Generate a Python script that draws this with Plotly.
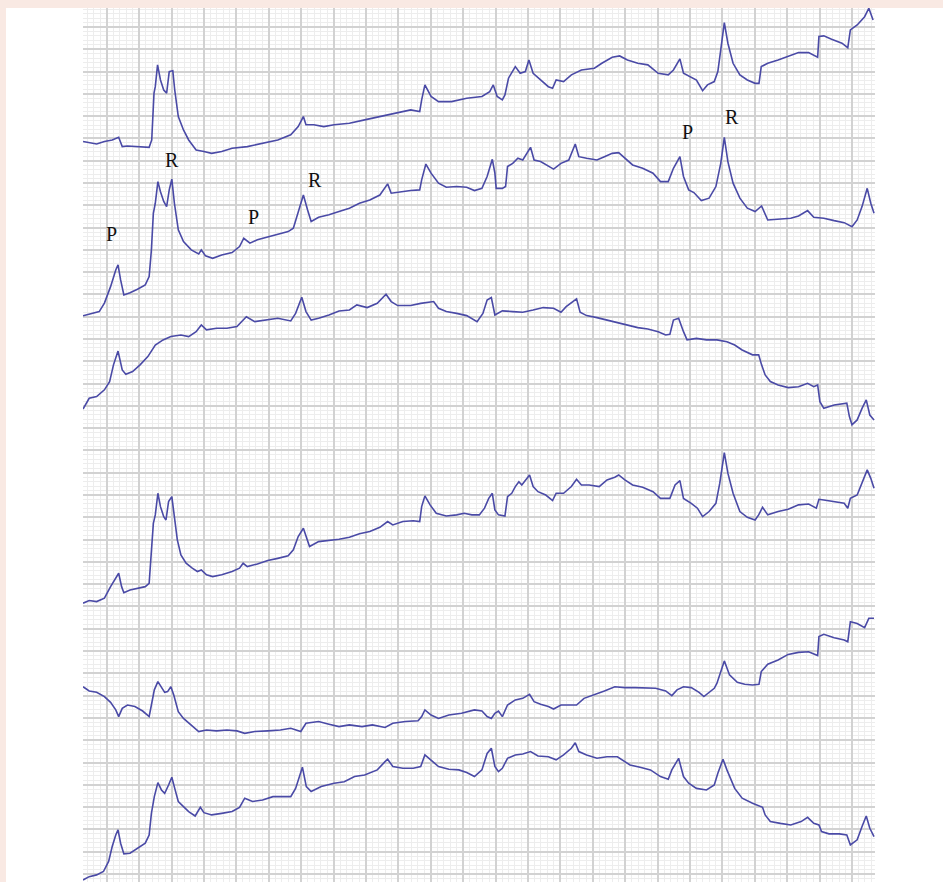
import plotly.graph_objects as go

# Units: time in large ECG boxes (0.2 s each), amplitude in large boxes (0.5 mV each)
t1 = [-0.73,-0.54,-0.31,-0.07,0.17,0.37,0.48,0.64,0.87,1.11,1.31,1.39,1.46,1.50,1.57,1.66,1.76,1.85,1.93,2.04,2.10,2.21,2.37,2.53,2.76,3.00,3.24,3.55,3.87,4.34,4.81,5.28,5.68,5.91,6.07,6.15,6.39,6.70,7.02,7.49,7.96,8.43,8.91,9.38,9.66,9.72,9.82,10.01,10.24,10.64,11.11,11.58,11.82,11.93,12.05,12.21,12.29,12.40,12.61,12.76,12.92,13.03,13.16,13.39,13.63,13.76,13.87,14.10,14.34,14.65,15.05,15.28,15.60,15.83,16.07,16.39,16.70,17.02,17.33,17.49,17.69,17.80,18.04,18.20,18.39,18.54,18.75,18.86,18.95,19.06,19.17,19.33,19.54,19.77,20.01,20.13,20.20,20.40,20.72,21.03,21.35,21.66,21.94,21.98,22.13,22.37,22.69,22.87,22.95,23.16,23.39,23.52,23.65]
v1 = [32.86,32.81,32.75,32.86,32.93,33.05,32.63,32.66,32.63,32.63,32.60,32.93,35.03,35.32,36.30,35.62,35.17,35.03,36.00,36.04,35.17,33.98,33.38,32.93,32.48,32.41,32.33,32.41,32.56,32.63,32.78,32.93,33.16,33.53,33.98,33.61,33.61,33.53,33.61,33.68,33.83,33.98,34.13,34.28,34.20,34.73,35.40,34.88,34.65,34.65,34.80,34.88,35.10,35.40,34.88,34.73,34.95,35.70,36.22,35.92,36.00,36.52,35.92,35.62,35.32,35.25,35.62,35.55,35.85,36.07,36.15,36.37,36.64,36.70,36.52,36.37,36.30,35.92,35.85,36.07,36.57,35.92,35.74,35.62,35.14,35.40,35.55,36.00,36.97,38.19,37.27,36.37,35.85,35.62,35.47,35.47,36.22,36.37,36.52,36.67,36.85,36.85,36.64,37.57,37.60,37.45,37.27,37.07,37.87,38.09,38.46,38.84,38.31]

t2 = [-0.73,-0.46,-0.23,-0.07,0.12,0.28,0.35,0.43,0.53,0.72,0.95,1.19,1.31,1.38,1.44,1.50,1.58,1.66,1.76,1.85,1.93,2.01,2.09,2.21,2.37,2.61,2.84,2.92,3.05,3.27,3.55,3.87,4.10,4.23,4.42,4.65,4.97,5.28,5.60,5.76,5.91,6.07,6.20,6.31,6.54,6.86,7.17,7.49,7.80,8.12,8.43,8.67,8.78,9.06,9.38,9.66,9.72,9.85,10.01,10.24,10.48,10.80,11.11,11.35,11.58,11.74,11.90,11.98,12.02,12.21,12.31,12.37,12.53,12.69,12.84,13.08,13.19,13.39,13.63,13.79,14.02,14.26,14.46,14.57,14.81,15.13,15.36,15.60,15.80,15.99,16.23,16.54,16.86,17.09,17.33,17.49,17.69,17.80,17.96,18.12,18.35,18.59,18.80,18.95,19.06,19.17,19.33,19.54,19.77,20.01,20.21,20.40,20.72,21.11,21.35,21.63,21.82,22.13,22.45,22.76,23.00,23.16,23.31,23.47,23.58,23.68]
v2 = [25.04,25.13,25.23,25.61,26.35,27.10,27.33,26.65,25.98,26.08,26.23,26.43,26.80,28.00,29.64,30.09,31.06,30.61,30.17,29.94,30.69,31.17,30.09,28.90,28.37,28.00,27.82,28.00,27.73,27.62,27.77,27.88,28.15,28.52,28.30,28.45,28.57,28.72,28.82,28.97,29.64,30.46,29.79,29.27,29.46,29.57,29.72,29.87,30.09,30.24,30.46,30.96,30.54,30.61,30.66,30.69,31.14,31.85,31.44,30.99,30.81,30.84,30.81,30.66,30.76,31.29,32.06,31.44,30.76,30.76,30.84,31.74,31.88,32.11,32.03,32.60,32.03,31.96,31.77,31.62,31.88,32.03,32.75,32.18,32.11,32.03,32.18,32.33,32.36,32.11,31.81,31.66,31.44,31.06,31.06,31.66,32.18,31.29,30.69,30.57,30.21,30.32,30.84,31.88,33.05,31.96,30.99,30.32,29.87,29.72,29.97,29.34,29.37,29.42,29.52,29.76,29.46,29.42,29.31,29.22,29.04,29.34,29.94,30.76,30.09,29.64]

t3 = [-0.73,-0.54,-0.31,-0.07,0.09,0.21,0.35,0.48,0.59,0.80,1.03,1.27,1.50,1.74,1.98,2.29,2.53,2.76,2.92,3.08,3.39,3.71,4.02,4.18,4.31,4.57,4.89,5.28,5.68,5.83,6.02,6.15,6.31,6.54,6.86,7.17,7.49,7.72,8.04,8.35,8.62,8.78,8.98,9.38,9.69,10.09,10.24,10.48,10.80,11.11,11.43,11.61,11.74,11.87,11.98,12.21,12.53,12.84,13.16,13.47,13.79,14.02,14.18,14.50,14.61,14.81,15.13,15.44,15.76,16.07,16.39,16.70,17.02,17.25,17.38,17.49,17.65,17.80,17.91,18.20,18.51,18.83,19.14,19.38,19.61,19.93,20.12,20.21,20.32,20.48,20.72,21.03,21.35,21.63,21.82,21.94,22.01,22.13,22.45,22.84,22.92,23.00,23.16,23.31,23.44,23.55,23.68]
v3 = [20.86,21.34,21.42,21.72,22.09,22.84,23.46,22.61,22.42,22.54,22.84,23.21,23.73,23.96,24.11,24.18,24.11,24.33,24.63,24.41,24.48,24.48,24.56,24.78,25.00,24.78,24.85,24.93,24.81,25.15,25.87,25.23,24.85,24.93,25.08,25.26,25.30,25.53,25.41,25.60,26.01,25.68,25.50,25.50,25.60,25.68,25.38,25.23,25.15,25.05,24.78,25.15,25.75,25.86,25.08,25.26,25.23,25.20,25.30,25.41,25.38,25.20,25.45,25.80,25.20,25.05,24.96,24.85,24.75,24.63,24.51,24.45,24.33,24.18,24.21,24.85,24.93,24.33,23.96,24.03,23.96,23.96,23.88,23.73,23.51,23.29,23.29,22.84,22.39,22.09,21.94,21.82,21.86,22.01,21.86,21.94,21.19,20.89,21.04,21.12,20.52,20.15,20.37,20.89,21.27,20.59,20.37]

t4 = [-0.73,-0.54,-0.31,-0.07,0.12,0.28,0.37,0.46,0.53,0.72,0.95,1.19,1.31,1.38,1.44,1.50,1.58,1.66,1.76,1.83,1.91,2.01,2.09,2.18,2.29,2.45,2.64,2.80,2.92,3.08,3.27,3.55,3.87,4.10,4.21,4.34,4.65,4.97,5.28,5.60,5.76,5.91,6.07,6.15,6.26,6.54,6.86,7.17,7.49,7.80,8.12,8.43,8.67,8.83,9.14,9.46,9.66,9.72,9.82,9.98,10.17,10.48,10.80,11.03,11.27,11.50,11.66,11.79,11.90,11.98,12.09,12.29,12.37,12.50,12.61,12.72,12.81,12.92,13.05,13.16,13.31,13.55,13.76,13.87,14.10,14.34,14.50,14.65,14.89,15.20,15.44,15.68,15.80,15.99,16.23,16.54,16.86,17.09,17.38,17.54,17.69,17.80,18.04,18.23,18.39,18.59,18.80,18.92,19.06,19.17,19.33,19.54,19.77,20.01,20.12,20.24,20.40,20.72,21.03,21.35,21.66,21.90,21.98,22.13,22.45,22.76,22.87,22.95,23.16,23.31,23.47,23.58,23.68]
v4 = [12.15,12.27,12.22,12.37,12.89,13.27,13.49,12.89,12.62,12.74,12.82,12.89,13.04,14.39,15.73,16.11,17.08,16.48,16.03,15.88,16.71,16.93,16.03,14.99,14.31,13.94,13.72,13.57,13.64,13.42,13.34,13.42,13.57,13.72,13.94,13.79,13.91,14.06,14.16,14.27,14.54,15.14,15.51,15.14,14.69,14.91,14.96,15.02,15.11,15.26,15.36,15.55,15.81,15.66,15.81,15.85,15.81,16.48,16.96,16.56,16.18,16.06,16.11,16.18,16.11,16.11,16.41,16.85,17.08,16.33,16.11,16.06,16.93,17.08,17.38,17.60,17.45,17.68,17.90,17.38,17.15,17.00,16.75,17.08,17.08,17.38,17.71,17.45,17.45,17.38,17.68,17.80,17.90,17.68,17.45,17.35,17.15,16.85,16.85,17.45,17.65,16.85,16.63,16.41,16.03,16.26,16.63,17.53,18.90,17.98,17.08,16.26,16.00,15.88,16.11,16.45,16.11,16.26,16.36,16.56,16.60,16.41,16.81,16.78,16.71,16.63,16.41,16.85,17.00,17.53,18.13,17.75,17.30]

t5 = [-0.73,-0.54,-0.31,-0.07,0.12,0.28,0.37,0.48,0.64,0.87,1.11,1.31,1.38,1.47,1.58,1.69,1.79,1.88,1.98,2.07,2.21,2.37,2.61,2.84,3.08,3.39,3.71,4.02,4.26,4.57,4.97,5.36,5.68,5.99,6.15,6.54,6.86,7.17,7.49,7.88,8.20,8.59,8.83,9.22,9.61,9.72,9.82,10.01,10.24,10.56,10.95,11.35,11.58,11.74,11.87,11.98,12.09,12.21,12.37,12.61,12.84,13.05,13.19,13.39,13.63,13.79,14.02,14.26,14.50,14.73,15.05,15.36,15.68,15.99,16.31,16.62,16.94,17.25,17.44,17.60,17.80,18.04,18.28,18.43,18.59,18.75,18.83,18.92,19.06,19.22,19.46,19.69,19.93,20.13,20.20,20.40,20.72,21.03,21.35,21.66,21.94,21.98,22.13,22.45,22.76,22.87,22.95,23.16,23.39,23.52,23.68]
v5 = [8.40,8.21,8.15,7.96,7.70,7.36,7.06,7.43,7.58,7.51,7.31,7.06,7.58,8.26,8.63,8.36,8.15,8.18,8.40,8.03,7.28,6.98,6.69,6.39,6.46,6.42,6.46,6.42,6.31,6.39,6.42,6.46,6.54,6.39,6.76,6.84,6.72,6.61,6.69,6.61,6.69,6.57,6.76,6.84,6.87,7.06,7.36,7.13,6.98,7.13,7.21,7.36,7.31,7.06,6.98,7.21,7.31,7.06,7.58,7.81,7.88,8.06,7.73,7.61,7.51,7.40,7.58,7.58,7.58,7.88,8.03,8.21,8.40,8.36,8.36,8.36,8.33,8.21,8.00,8.26,8.40,8.36,8.15,7.96,8.15,8.33,8.55,8.93,9.56,8.93,8.60,8.51,8.48,8.51,9.08,9.41,9.60,9.85,9.94,9.97,9.80,10.65,10.75,10.60,10.50,10.42,11.32,11.24,11.05,11.47,11.47]

t6 = [-0.73,-0.54,-0.31,-0.10,0.06,0.17,0.28,0.35,0.43,0.53,0.72,0.95,1.19,1.31,1.38,1.47,1.58,1.69,1.79,1.91,2.01,2.10,2.21,2.37,2.53,2.73,2.89,3.00,3.24,3.55,3.87,4.10,4.26,4.50,4.81,5.13,5.44,5.68,5.83,6.04,6.16,6.31,6.62,7.02,7.33,7.65,7.96,8.35,8.59,8.67,8.83,9.14,9.46,9.69,9.82,10.01,10.24,10.56,10.87,11.11,11.35,11.58,11.74,11.87,11.98,12.09,12.21,12.37,12.61,12.84,13.08,13.31,13.63,13.87,14.10,14.34,14.46,14.57,14.81,15.13,15.44,15.76,15.91,16.15,16.46,16.78,17.09,17.33,17.44,17.65,17.80,17.96,18.20,18.51,18.75,18.86,19.02,19.14,19.38,19.61,19.93,20.24,20.32,20.48,20.79,21.11,21.43,21.63,21.82,21.98,22.06,22.29,22.61,22.84,22.95,23.16,23.31,23.44,23.55,23.68]
v6 = [-0.27,-0.12,-0.04,0.11,0.56,1.23,1.75,1.98,1.38,0.90,0.93,1.15,1.38,1.75,2.72,3.47,4.10,3.77,3.62,3.99,4.34,3.84,3.25,3.02,2.80,2.60,2.99,2.75,2.65,2.72,2.80,2.99,3.40,3.25,3.32,3.47,3.47,3.47,3.84,4.79,3.92,3.70,3.92,4.07,4.14,4.37,4.44,4.67,5.04,5.15,4.82,4.74,4.74,4.82,5.34,5.12,4.82,4.70,4.67,4.55,4.37,4.67,5.41,5.64,4.82,4.59,4.74,5.19,5.34,5.38,5.49,5.29,5.26,5.12,5.34,5.64,5.89,5.49,5.34,5.19,5.26,5.26,5.12,4.89,4.79,4.67,4.37,4.25,4.67,5.19,4.37,4.07,3.84,3.77,3.99,4.52,5.15,4.67,3.84,3.40,3.17,2.99,2.65,2.35,2.27,2.20,2.35,2.54,2.27,2.20,1.90,1.80,1.80,1.75,1.30,1.53,2.13,2.60,2.05,1.68]

# wave labels
label_text = ["R", "P", "P", "R", "P", "R"]
label_t = [2.01, 0.15, 4.53, 6.42, 17.91, 19.30]
label_v = [32.03, 28.71, 29.46, 31.14, 33.30, 33.97]

traces_t = [t1, t2, t3, t4, t5, t6]
traces_v = [v1, v2, v3, v4, v5, v6]

fig = go.Figure()
for tt, vv in zip(traces_t, traces_v):
    fig.add_trace(go.Scatter(x=tt, y=vv, mode="lines",
                             line=dict(color="#4a4aa6", width=1.6),
                             hoverinfo="skip", showlegend=False))

for txt, xx, yy in zip(label_text, label_t, label_v):
    fig.add_annotation(x=xx, y=yy, text=txt, showarrow=False,
                       font=dict(family="Liberation Serif, Times New Roman, serif",
                                 size=20, color="#111111"))

axis_common = dict(showticklabels=False, ticks="", zeroline=False,
                   showline=False, showgrid=True, gridcolor="#d2d2d2",
                   gridwidth=1.5, dtick=1, tick0=0,
                   minor=dict(dtick=0.2, showgrid=True, gridcolor="#ededed",
                              gridwidth=1))
fig.update_xaxes(range=[-0.731, 23.71], **axis_common)
fig.update_yaxes(range=[-0.36, 38.85], **axis_common)

pink = "#f9e9e3"
fig.update_layout(
    width=943, height=882, autosize=False,
    margin=dict(l=83, r=68, t=8, b=0),
    paper_bgcolor="white", plot_bgcolor="white",
    shapes=[
        dict(type="rect", xref="paper", yref="paper", x0=-0.2, x1=1.2,
             y0=1.0, y1=1.02, fillcolor=pink, line_width=0, layer="above"),
        dict(type="rect", xref="paper", yref="paper", x0=-0.2, x1=-0.0972,
             y0=-0.02, y1=1.02, fillcolor=pink, line_width=0, layer="above"),
    ],
)

fig.write_html("out.html", config={"displayModeBar": False},
               post_script="document.body.style.margin='0';document.body.style.overflow='hidden';")
